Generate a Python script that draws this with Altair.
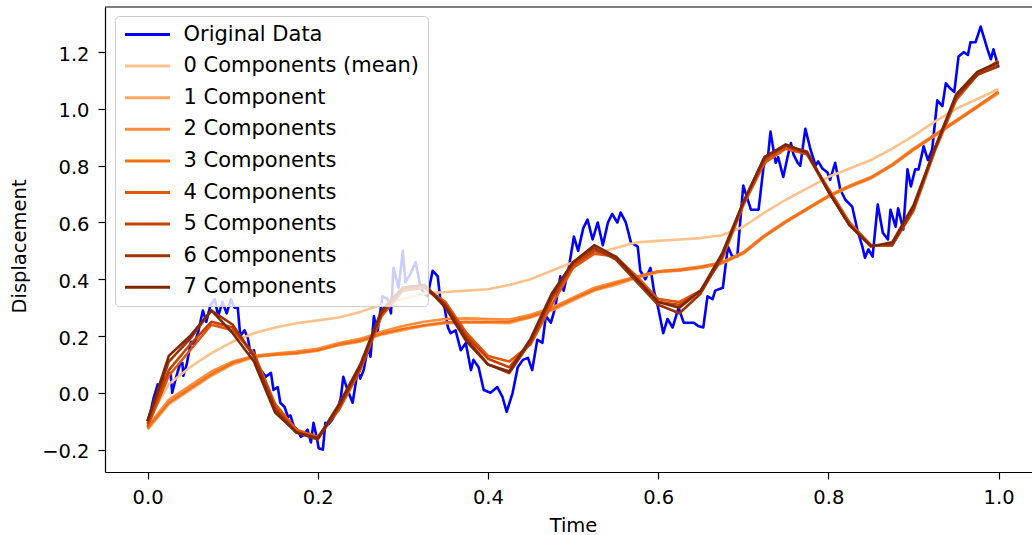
import altair as alt
import pandas as pd

# ---------------- data ----------------
blue_points = [
    (0.000, -0.10), (0.004, -0.06), (0.007, -0.02), (0.012, 0.03), (0.015, 0.00),
    (0.019, 0.05), (0.024, 0.06), (0.027, 0.07), (0.029, 0.00), (0.034, 0.06),
    (0.038, 0.10), (0.041, 0.105), (0.042, 0.06), (0.046, 0.10), (0.051, 0.18),
    (0.055, 0.17), (0.060, 0.22), (0.065, 0.29), (0.069, 0.25), (0.074, 0.31),
    (0.079, 0.33), (0.083, 0.27), (0.088, 0.32), (0.093, 0.28), (0.098, 0.33),
    (0.102, 0.30), (0.106, 0.30), (0.109, 0.20), (0.114, 0.22), (0.118, 0.19),
    (0.121, 0.14), (0.125, 0.15), (0.129, 0.10), (0.133, 0.08), (0.139, 0.057),
    (0.145, 0.07), (0.148, 0.01), (0.153, 0.02), (0.156, -0.035), (0.161, -0.05),
    (0.165, -0.085), (0.168, -0.08), (0.172, -0.12), (0.176, -0.13), (0.180, -0.155),
    (0.183, -0.15), (0.188, -0.13), (0.192, -0.175), (0.195, -0.106), (0.199, -0.16),
    (0.201, -0.195), (0.206, -0.20), (0.209, -0.106), (0.213, -0.11), (0.217, -0.095),
    (0.223, -0.06), (0.227, -0.02), (0.230, 0.056), (0.235, 0.01), (0.241, -0.035),
    (0.247, 0.08), (0.250, 0.05), (0.254, 0.08), (0.259, 0.16), (0.262, 0.127),
    (0.266, 0.27), (0.270, 0.21), (0.276, 0.34), (0.282, 0.33), (0.286, 0.28),
    (0.289, 0.44), (0.295, 0.37), (0.300, 0.50), (0.303, 0.39), (0.309, 0.42),
    (0.315, 0.46), (0.321, 0.37), (0.325, 0.35), (0.329, 0.34), (0.335, 0.43),
    (0.341, 0.41), (0.344, 0.33), (0.349, 0.30), (0.353, 0.23), (0.356, 0.21),
    (0.362, 0.22), (0.368, 0.15), (0.374, 0.175), (0.380, 0.08), (0.383, 0.116),
    (0.389, 0.09), (0.395, 0.01), (0.403, 0.00), (0.411, 0.02), (0.417, -0.014),
    (0.422, -0.067), (0.429, 0.00), (0.435, 0.09), (0.441, 0.116), (0.447, 0.123),
    (0.452, 0.08), (0.458, 0.187), (0.464, 0.176), (0.468, 0.27), (0.474, 0.247),
    (0.479, 0.30), (0.485, 0.41), (0.489, 0.36), (0.495, 0.44), (0.501, 0.55),
    (0.506, 0.50), (0.512, 0.58), (0.517, 0.61), (0.523, 0.54), (0.529, 0.60),
    (0.535, 0.52), (0.541, 0.60), (0.546, 0.63), (0.552, 0.60), (0.556, 0.635),
    (0.562, 0.60), (0.568, 0.53), (0.576, 0.515), (0.579, 0.43), (0.585, 0.40),
    (0.591, 0.44), (0.595, 0.36), (0.600, 0.30), (0.606, 0.21), (0.611, 0.26),
    (0.617, 0.23), (0.624, 0.30), (0.630, 0.247), (0.636, 0.247), (0.642, 0.247),
    (0.647, 0.235), (0.653, 0.23), (0.658, 0.34), (0.664, 0.33), (0.667, 0.36),
    (0.676, 0.37), (0.682, 0.515), (0.687, 0.48), (0.693, 0.48), (0.700, 0.73),
    (0.709, 0.645), (0.718, 0.645), (0.724, 0.80), (0.729, 0.83), (0.732, 0.92),
    (0.738, 0.81), (0.741, 0.83), (0.747, 0.76), (0.752, 0.83), (0.756, 0.88),
    (0.759, 0.84), (0.764, 0.81), (0.767, 0.80), (0.773, 0.93), (0.779, 0.857),
    (0.785, 0.80), (0.788, 0.815), (0.793, 0.79), (0.799, 0.776), (0.802, 0.75),
    (0.808, 0.81), (0.814, 0.716), (0.820, 0.68), (0.828, 0.656), (0.834, 0.575),
    (0.840, 0.515), (0.843, 0.476), (0.847, 0.505), (0.852, 0.48), (0.858, 0.663),
    (0.864, 0.564), (0.870, 0.54), (0.873, 0.645), (0.879, 0.585), (0.882, 0.65),
    (0.888, 0.575), (0.893, 0.787), (0.897, 0.727), (0.902, 0.787), (0.906, 0.787),
    (0.912, 0.868), (0.917, 0.82), (0.922, 0.857), (0.928, 1.03), (0.934, 1.01),
    (0.938, 1.09), (0.944, 1.07), (0.948, 1.06), (0.953, 1.185), (0.959, 1.20),
    (0.964, 1.19), (0.967, 1.235), (0.973, 1.235), (0.979, 1.29), (0.987, 1.21),
    (0.991, 1.175), (0.994, 1.21), (1.000, 1.146),
]

comp_t = [0.0, 0.025, 0.05, 0.075, 0.1, 0.125, 0.15, 0.175, 0.2, 0.225,
          0.25, 0.275, 0.3, 0.325, 0.35, 0.375, 0.4, 0.425, 0.45, 0.475,
          0.5, 0.525, 0.55, 0.575, 0.6, 0.625, 0.65, 0.675, 0.7, 0.725,
          0.75, 0.775, 0.8, 0.825, 0.85, 0.875, 0.9, 0.925, 0.95, 0.975, 1.0]

comp0 = [-0.10, 0.03, 0.09, 0.14, 0.18, 0.21, 0.23, 0.245, 0.255, 0.265,
         0.285, 0.31, 0.33, 0.35, 0.355, 0.36, 0.365, 0.38, 0.40, 0.43,
         0.46, 0.49, 0.51, 0.53, 0.535, 0.54, 0.545, 0.555, 0.585, 0.635,
         0.68, 0.72, 0.76, 0.79, 0.82, 0.86, 0.905, 0.955, 1.0, 1.035, 1.07]
comp1 = [-0.13, -0.04, 0.01, 0.06, 0.10, 0.125, 0.133, 0.138, 0.148, 0.168,
         0.18, 0.205, 0.22, 0.235, 0.245, 0.247, 0.247, 0.245, 0.265, 0.29,
         0.325, 0.36, 0.38, 0.405, 0.425, 0.43, 0.44, 0.455, 0.49, 0.55,
         0.60, 0.645, 0.69, 0.725, 0.755, 0.80, 0.855, 0.905, 0.955, 1.005, 1.055]
comp2 = [-0.12, -0.025, 0.025, 0.075, 0.11, 0.13, 0.138, 0.145, 0.155, 0.175,
         0.19, 0.215, 0.235, 0.25, 0.26, 0.262, 0.26, 0.258, 0.275, 0.30,
         0.335, 0.37, 0.39, 0.41, 0.428, 0.435, 0.445, 0.46, 0.495, 0.555,
         0.605, 0.65, 0.695, 0.73, 0.76, 0.805, 0.86, 0.91, 0.96, 1.01, 1.06]
comp3 = [-0.125, -0.035, 0.015, 0.065, 0.105, 0.128, 0.135, 0.14, 0.15, 0.17,
         0.183, 0.208, 0.225, 0.238, 0.248, 0.25, 0.25, 0.25, 0.268, 0.293,
         0.33, 0.363, 0.385, 0.408, 0.427, 0.432, 0.442, 0.458, 0.492, 0.552,
         0.602, 0.648, 0.692, 0.727, 0.757, 0.802, 0.857, 0.907, 0.957, 1.007, 1.06]
comp4 = [-0.12, 0.06, 0.15, 0.24, 0.22, 0.14, -0.04, -0.13, -0.155, -0.06,
         0.08, 0.27, 0.36, 0.37, 0.32, 0.21, 0.13, 0.11, 0.17, 0.31,
         0.44, 0.49, 0.48, 0.41, 0.33, 0.32, 0.36, 0.47, 0.66, 0.81,
         0.86, 0.84, 0.72, 0.60, 0.52, 0.52, 0.64, 0.85, 1.03, 1.12, 1.17]
comp5 = [-0.11, 0.08, 0.17, 0.25, 0.23, 0.13, -0.05, -0.14, -0.16, -0.05,
         0.09, 0.28, 0.36, 0.37, 0.31, 0.20, 0.12, 0.09, 0.18, 0.33,
         0.45, 0.50, 0.48, 0.40, 0.32, 0.31, 0.36, 0.48, 0.67, 0.82,
         0.87, 0.84, 0.71, 0.59, 0.52, 0.52, 0.65, 0.86, 1.04, 1.12, 1.16]
comp6 = [-0.10, 0.11, 0.19, 0.29, 0.24, 0.13, -0.06, -0.14, -0.165, -0.05,
         0.09, 0.28, 0.37, 0.38, 0.31, 0.19, 0.10, 0.07, 0.18, 0.34,
         0.46, 0.51, 0.47, 0.39, 0.31, 0.28, 0.35, 0.48, 0.67, 0.83,
         0.87, 0.85, 0.71, 0.59, 0.52, 0.52, 0.65, 0.86, 1.04, 1.12, 1.15]
comp7 = [-0.10, 0.13, 0.20, 0.29, 0.21, 0.11, -0.07, -0.14, -0.16, -0.04,
         0.10, 0.29, 0.37, 0.38, 0.30, 0.18, 0.10, 0.075, 0.19, 0.35,
         0.46, 0.52, 0.48, 0.40, 0.32, 0.30, 0.36, 0.49, 0.67, 0.83,
         0.875, 0.845, 0.71, 0.59, 0.515, 0.53, 0.66, 0.86, 1.05, 1.13, 1.165]

series_names = ["Original Data", "0 Components (mean)", "1 Component",
                "2 Components", "3 Components", "4 Components",
                "5 Components", "6 Components", "7 Components"]
series_colors = ["#0000ff", "#fdc28c", "#fda762", "#fd8d3c", "#f3701b",
                 "#e35508", "#c54102", "#9e3303", "#7f2704"]

x_ticks = [0.0, 0.2, 0.4, 0.6, 0.8, 1.0]
y_ticks = [-0.2, 0.0, 0.2, 0.4, 0.6, 0.8, 1.0, 1.2]

# ---------------- build table ----------------
comps = [comp0, comp1, comp2, comp3, comp4, comp5, comp6, comp7]
rows = [{"t": t, "v": v, "series": series_names[0]} for t, v in blue_points]
for name, vals in zip(series_names[1:], comps):
    assert len(vals) == len(comp_t)
    rows += [{"t": t, "v": v, "series": name} for t, v in zip(comp_t, vals)]
df = pd.DataFrame(rows)

W, H = 927, 465
FONT = "DejaVu Sans"

color = alt.Color(
    "series:N",
    scale=alt.Scale(domain=series_names, range=series_colors),
    legend=alt.Legend(
        title=None, orient="none", legendX=10, legendY=9,
        symbolType="stroke", symbolSize=2025, symbolStrokeWidth=3,
        labelFont=FONT, labelFontSize=21, labelColor="black", labelLimit=500,
        labelOffset=12, rowPadding=10.6, clipHeight=20, padding=8.5,
        fillColor="rgba(255,255,255,0.8)", strokeColor="#cccccc",
        cornerRadius=4, symbolOpacity=1,
    ),
)

x_enc = alt.X(
    "t:Q",
    scale=alt.Scale(domain=[-0.05, 1.0393], nice=False, zero=False),
    axis=alt.Axis(values=x_ticks, format=".1f", title="Time",
                  labelPadding=9, titleX=468, titleY=59,
                  titleBaseline="alphabetic"),
)
y_enc = alt.Y(
    "v:Q",
    scale=alt.Scale(domain=[-0.279, 1.359], nice=False, zero=False),
    axis=alt.Axis(values=y_ticks, format=".1f", title="Displacement",
                  labelPadding=9, labelOffset=2, titleX=-80, titleY=239,
                  titleBaseline="alphabetic"),
)

layers = []
for name in series_names:
    layers.append(
        alt.Chart(df)
        .transform_filter(alt.datum.series == name)
        .mark_line(strokeWidth=2.6, strokeJoin="round")
        .encode(x=x_enc, y=y_enc, color=color)
    )

top_spine = alt.Chart(pd.DataFrame({"a": [0]})).mark_rule(
    color="black", strokeWidth=1.2
).encode(x=alt.value(0), x2=alt.value(W), y=alt.value(0))

chart = (
    alt.layer(*layers, top_spine)
    .properties(
        width=W, height=H,
        autosize=alt.AutoSizeParams(type="none"),
        padding={"left": 105, "top": 7, "right": 0, "bottom": 63},
        background="white",
    )
    .configure_view(stroke=None)
    .configure_axis(
        grid=False, labelFont=FONT, labelFontSize=19.5, labelColor="black",
        titleFont=FONT, titleFontSize=19.5, titleFontWeight="normal",
        titleColor="black", domainColor="black", domainWidth=1.2,
        tickColor="black", tickWidth=1.2, tickSize=7,
    )
)

chart.save("out.html", embed_options={"renderer": "svg", "actions": False})
